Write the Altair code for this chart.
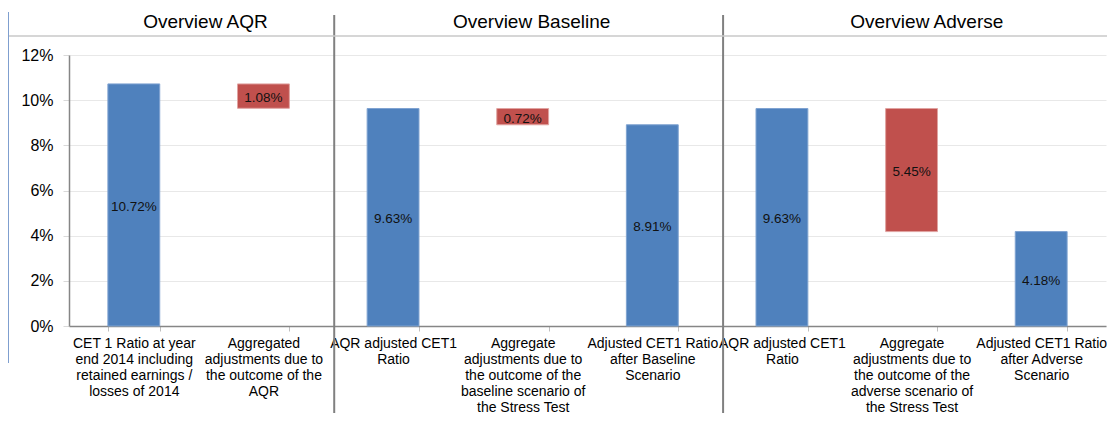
import json
import altair as alt
import pandas as pd

# ---- data ----
keys = ["k1", "k2", "k3", "k4", "k5", "k6", "k7", "k8"]
values = [10.72, -1.08, 9.63, -0.72, 8.91, 9.63, -5.45, 4.18]
kinds = ["total", "delta", "total", "delta", "total", "total", "delta", "total"]
bar_labels = ["10.72%", "1.08%", "9.63%", "0.72%", "8.91%", "9.63%", "5.45%", "4.18%"]
x_labels = [
    ["CET 1 Ratio at year", "end 2014 including", "retained earnings /", "losses of 2014"],
    ["Aggregated", "adjustments due to", "the outcome of the", "AQR"],
    ["AQR adjusted CET1", "Ratio"],
    ["Aggregate", "adjustments due to", "the outcome of the", "baseline scenario of", "the Stress Test"],
    ["Adjusted CET1 Ratio", "after Baseline", "Scenario"],
    ["AQR adjusted CET1", "Ratio"],
    ["Aggregate", "adjustments due to", "the outcome of the", "adverse scenario of", "the Stress Test"],
    ["Adjusted CET1 Ratio", "after Adverse", "Scenario"],
]
section_titles = ["Overview AQR", "Overview Baseline", "Overview Adverse"]
# positions in category-slot units (0..8 across the plot)
section_pos = [1.053, 3.569, 6.617]
separator_pos = [2.046, 5.046]

BLUE = "#4F81BD"
RED = "#C0504D"
FONT = "Liberation Sans"

# waterfall geometry from the values
rows = []
prev_total = 0.0
for k, v, kind, lab in zip(keys, values, kinds, bar_labels):
    if kind == "total":
        lo, hi = 0.0, v
        prev_total = v
        color = BLUE
        stroke = "#7FA3D1"
    else:
        hi = prev_total
        lo = prev_total + v
        color = RED
        stroke = "#E0A3A1"
    rows.append({"key": k, "lo": lo, "hi": hi, "mid": (lo + hi) / 2,
                 "label": lab, "color": color, "stroke": stroke})
df = pd.DataFrame(rows)

label_map = json.dumps(dict(zip(keys, x_labels)))

W, H = 1037, 271

xenc = alt.X(
    "key:N", sort=keys,
    scale=alt.Scale(paddingInner=0.6, paddingOuter=0.3),
    axis=alt.Axis(
        title=None, labelAngle=0, labelExpr=f"{label_map}[datum.value]",
        labelFont=FONT, labelFontSize=14, labelLineHeight=16, labelColor="#000000",
        labelPadding=5, labelBaseline="top",
        tickBand="extent", ticks=True, tickSize=5, tickColor="#BFBFBF",
        domainColor="#868686", domainWidth=1.5, grid=False, labelLimit=200,
    ),
)

yenc = alt.Y(
    "lo:Q",
    scale=alt.Scale(domain=[0, 12], nice=False),
    axis=alt.Axis(
        title=None, values=[0, 2, 4, 6, 8, 10, 12], labelExpr="datum.value + '%'",
        labelFont=FONT, labelFontSize=16, labelColor="#000000", labelPadding=10,
        tickSize=6, tickColor="#D9D9D9", domainColor="#868686", domainWidth=1.5,
        gridColor="#E8E8E8", gridWidth=1,
    ),
)

bars = alt.Chart(df).mark_bar(strokeWidth=1).encode(
    x=xenc,
    y=yenc,
    y2="hi:Q",
    color=alt.Color("color:N", scale=None),
    stroke=alt.Stroke("stroke:N", scale=None),
)

texts = alt.Chart(df).mark_text(font=FONT, fontSize=13.5, color="#111111", baseline="middle", dy=2).encode(
    x=alt.X("key:N", sort=keys),
    y=alt.Y("mid:Q"),
    text="label:N",
)

main = alt.layer(bars, texts)

slot = alt.Scale(domain=[0, 8], nice=False, zero=False)

sep_df = pd.DataFrame({"pos": separator_pos})
separators = alt.Chart(sep_df).mark_rule(color="#808080", strokeWidth=2).encode(
    x=alt.X("pos:Q", scale=slot, axis=None),
    y=alt.value(-40),
    y2=alt.value(H + 100),
)

title_df = pd.DataFrame({"pos": section_pos, "title": section_titles})
titles = alt.Chart(title_df).mark_text(font=FONT, fontSize=19, color="#000000", baseline="middle", align="center").encode(
    x=alt.X("pos:Q", scale=slot, axis=None),
    y=alt.value(-33),
    text="title:N",
)

hline = alt.Chart(pd.DataFrame({"a": [0]})).mark_rule(color="#C8C8C8", strokeWidth=1.5).encode(
    x=alt.value(-61), x2=alt.value(W + 20), y=alt.value(-19)
)
vline = alt.Chart(pd.DataFrame({"a": [0]})).mark_rule(color="#7F9FCF", strokeWidth=2).encode(
    x=alt.value(-61), y=alt.value(-43), y2=alt.value(308)
)

decor = alt.layer(separators, titles)

chart = alt.layer(main, decor, hline, vline).resolve_scale(x="independent").properties(
    width=W, height=H,
    autosize=alt.AutoSizeParams(type="none"),
    padding={"left": 61, "top": 47, "right": 1, "bottom": 87},
).configure_view(stroke=None)

chart.save("out.html", embed_options={"renderer": "svg", "actions": False})
